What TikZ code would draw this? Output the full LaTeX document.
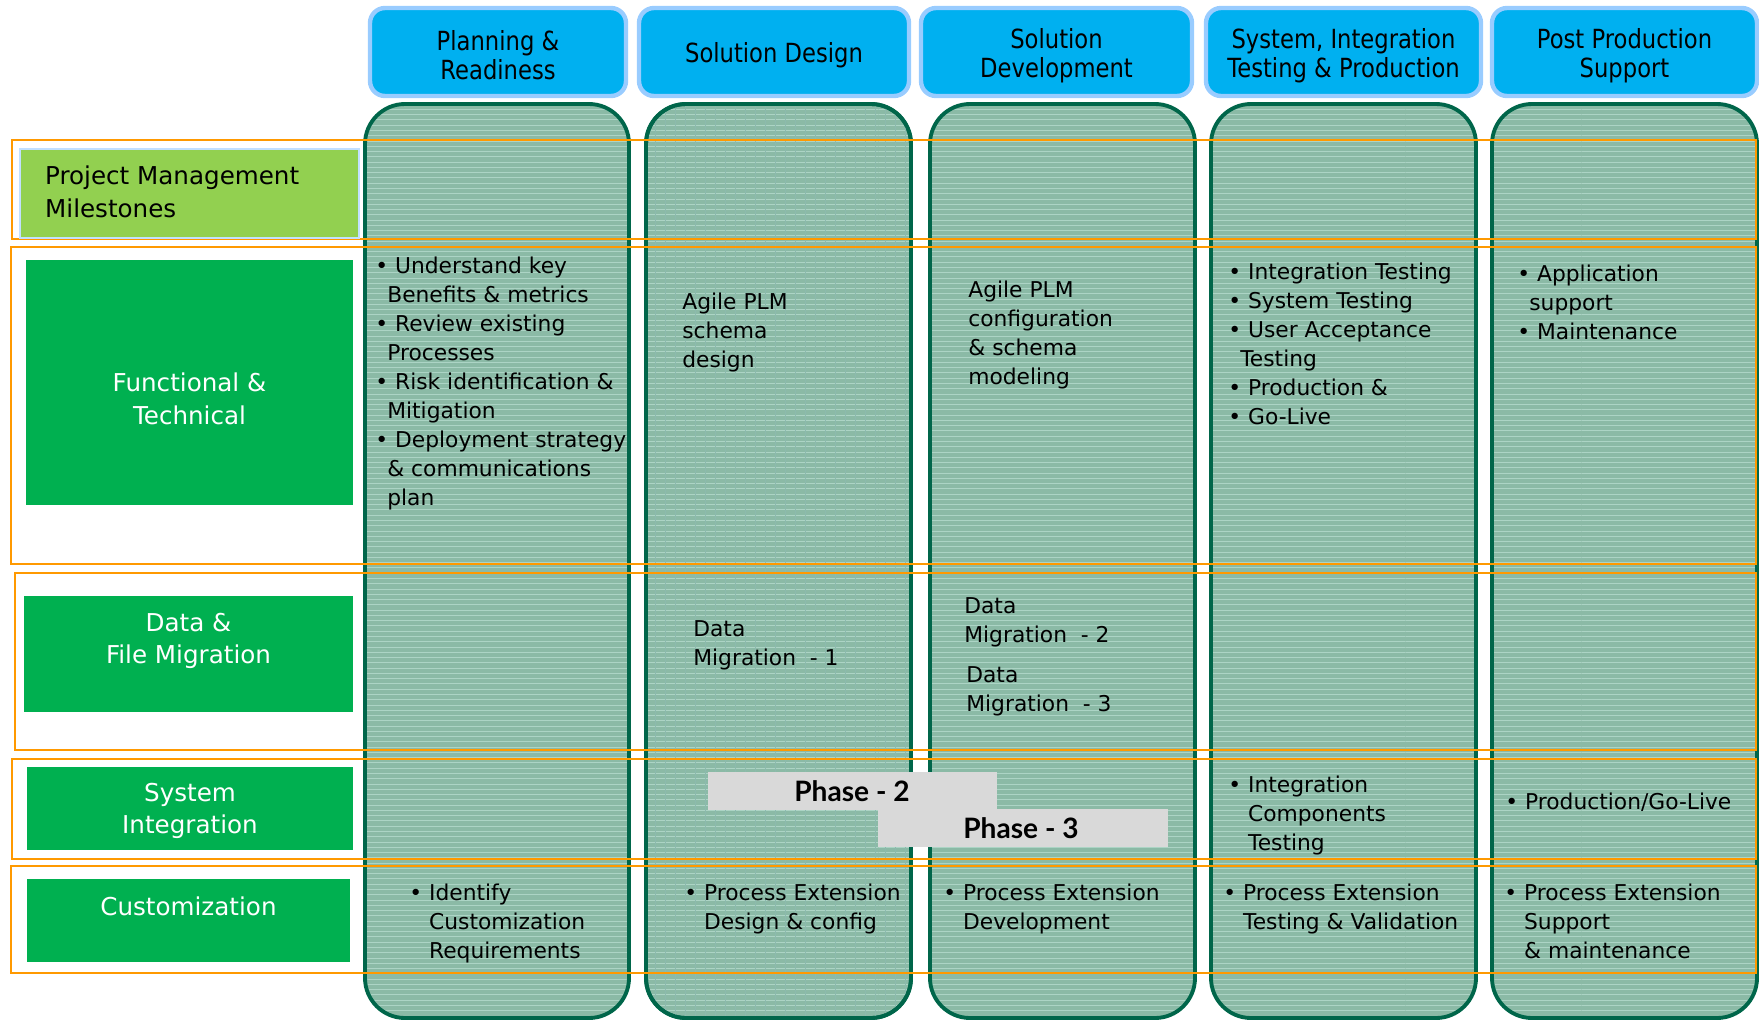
\documentclass[tikz,border=0pt]{standalone}
\usepackage{fontspec}
\setmainfont{DejaVu Sans}
\newfontfamily\headfont[FakeStretch=0.86]{DejaVu Sans}
\newfontfamily\phasefont{Lato}
\usetikzlibrary{patterns}

\definecolor{hdcyan}{RGB}{0,176,240}
\definecolor{hdrim}{RGB}{153,204,255}
\definecolor{pmgreen}{RGB}{146,208,80}
\definecolor{lblgreen}{RGB}{0,176,80}
\definecolor{colfill}{RGB}{139,186,166}
\definecolor{colstripe}{RGB}{172,212,197}
\definecolor{colrim}{RGB}{0,102,74}
\definecolor{rowrim}{RGB}{255,153,0}
\definecolor{phasegray}{RGB}{217,217,217}

\newcommand{\bul}{\textbullet\ }
\newcommand{\ind}{\hspace*{0.55em}}
\newcommand{\indb}{\phantom{\textbullet\ }}

\begin{document}
\begin{tikzpicture}[x=0.02cm, y=-0.02cm,
  stagebox/.style={draw=hdrim, line width=2.5pt, fill=hdcyan, rounded corners=0.3cm},
  stagetext/.style={align=center, font=\headfont\fontsize{15}{16.5}\selectfont},
  column/.style={draw=colrim, line width=2.2pt, rounded corners=0.8cm,
    preaction={fill=colfill}, pattern=horizontal lines, pattern color=colstripe},
  rowframe/.style={draw=rowrim, line width=1.6pt},
  lbltext/.style={text=white, align=center, font=\fontsize{14}{18.5}\selectfont},
  cell/.style={anchor=north west, inner sep=0pt, align=left,
    font=\fontsize{12.4}{16.5}\selectfont, execute at begin node=\strut},
  phasetext/.style={font=\phasefont\bfseries\fontsize{16}{18}\selectfont}
]
\useasboundingbox (0,0) rectangle (1759,1022);

% stage headers
\draw[stagebox] (370,8) rectangle (626,96);
\node[stagetext] (hdplan) at (498,55.5) {Planning \&\\Readiness};
\draw[stagebox] (639,8) rectangle (909,96);
\node[stagetext] (hddesign) at (774,55.5) {Solution Design};
\draw[stagebox] (921,8) rectangle (1192,96);
\node[stagetext] (hddev) at (1056.5,55.5) {Solution\\Development};
\draw[stagebox] (1206,8) rectangle (1481,96);
\node[stagetext] (hdtest) at (1343.5,55.5) {System, Integration\\Testing \& Production};
\draw[stagebox] (1492,8) rectangle (1757,96);
\node[stagetext] (hdpost) at (1624.5,55.5) {Post Production\\Support};

% columns
\draw[column] (365,104) rectangle (629,1018);
\draw[column] (646,104) rectangle (911,1018);
\begin{scope}
  \clip[rounded corners=0.8cm] (646,104) rectangle (911,1018);
  \foreach \gx in {655,665,...,905}
    \draw[colrim!45, line width=0.4pt] (\gx,104) -- (\gx,1018);
\end{scope}
\draw[colrim, line width=2.2pt, rounded corners=0.8cm] (646,104) rectangle (911,1018);
\draw[column] (930,104) rectangle (1195,1018);
\draw[column] (1211,104) rectangle (1476,1018);
\draw[column] (1492,104) rectangle (1757,1018);

% row frames
\draw[rowframe] (12,140) rectangle (1756,239);
\draw[rowframe] (11,247) rectangle (1756,564);
\draw[rowframe] (15,573) rectangle (1756,750);
\draw[rowframe] (12,759) rectangle (1756,859);
\draw[rowframe] (11,866) rectangle (1756,973);

% row labels
\filldraw[fill=pmgreen, draw=hdrim!60, line width=1pt] (20,149) rectangle (359,238);
\node[anchor=west, align=left, font=\fontsize{14}{18.5}\selectfont] (pm) at (39,192) {Project Management\\Milestones};
\fill[lblgreen] (26,260) rectangle (353,505);
\node[lbltext] (func) at (189.5,399) {Functional \&\\Technical};
\fill[lblgreen] (24,596) rectangle (353,712);
\node[lbltext] (data) at (188.5,641) {Data \&\\File Migration};
\fill[lblgreen] (27,767) rectangle (353,850);
\node[lbltext] (sysint) at (190,811) {System\\Integration};
\fill[lblgreen] (27,879) rectangle (350,962);
\node[lbltext] (cust) at (188.5,906) {Customization};

% functional & technical
\node[cell] (ftplan) at (375,257) {\bul Understand key\\\ind Benefits \& metrics\\\bul Review existing\\\ind Processes\\\bul Risk identification \&\\\ind Mitigation\\\bul Deployment strategy\\\ind\& communications\\\ind plan};
\node[cell] (ftdesign) at (682,292.5) {Agile PLM\\schema\\design};
\node[cell] (ftdev) at (968,280.5) {Agile PLM\\configuration\\\& schema\\modeling};
\node[cell] (fttest) at (1228,262.5) {\bul Integration Testing\\\bul System Testing\\\bul User Acceptance\\\ind Testing\\\bul Production \&\\\bul Go-Live};
\node[cell] (ftpost) at (1517,264.5) {\bul Application\\\ind support\\\bul Maintenance};

% data & file migration
\node[cell] (dmone) at (693,620.5) {Data\\Migration\ \ - 1};
\node[cell] (dmtwo) at (964,597.5) {Data\\Migration\ \ - 2};
\node[cell] (dmthree) at (966,666.5) {Data\\Migration\ \ - 3};

% system integration
\node[cell] (sitest) at (1228,775.5) {\bul Integration\\\indb Components\\\indb Testing};
\node[cell] (sipost) at (1505,789) {\bul Production/Go-Live};
\fill[phasegray] (708,772) rectangle (997,810);
\node[phasetext] (phtwo) at (852,791) {Phase - 2};
\fill[phasegray] (878,809) rectangle (1168,847);
\node[phasetext] (phthree) at (1021,828) {Phase - 3};

% customization
\node[cell] (cuplan) at (409,883.5) {\bul Identify\\\indb Customization\\\indb Requirements};
\node[cell] (cudesign) at (684,883.5) {\bul Process Extension\\\indb Design \& config};
\node[cell] (cudev) at (943,883.5) {\bul Process Extension\\\indb Development};
\node[cell] (cutest) at (1223,883.5) {\bul Process Extension\\\indb Testing \& Validation};
\node[cell] (cupost) at (1504,883.5) {\bul Process Extension\\\indb Support\\\indb\& maintenance};
\end{tikzpicture}
\end{document}
